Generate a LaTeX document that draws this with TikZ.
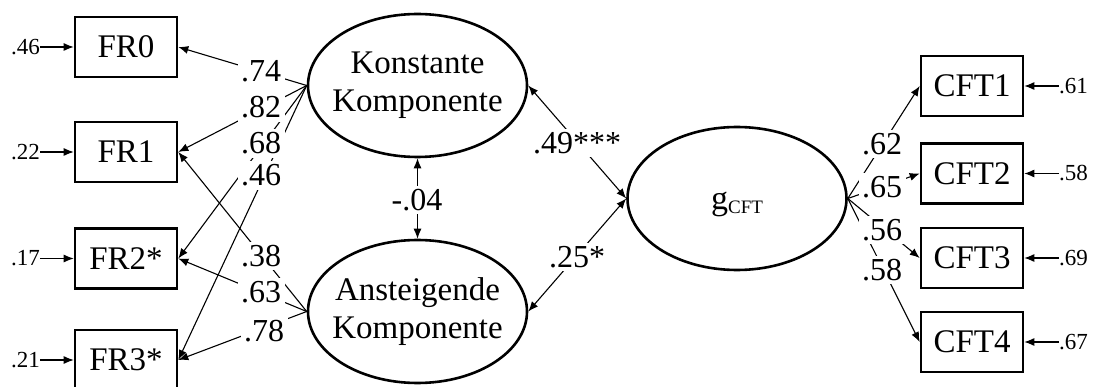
\documentclass[tikz,border=0pt]{standalone}
\usepackage{fontspec}
\setmainfont{Liberation Serif}
\usetikzlibrary{shapes.geometric,arrows.meta}
\begin{document}
\begin{tikzpicture}[x=1pt,y=-1pt,
  obs/.style={draw,line width=2.6pt,minimum width=102pt,minimum height=60pt,inner sep=0pt,font=\fontsize{33}{38}\selectfont},
  lat/.style={draw,ellipse,line width=2.6pt,minimum width=219pt,minimum height=143pt,inner sep=0pt},
  lattext/.style={align=center,inner sep=0pt,font=\fontsize{33}{38}\selectfont},
  conn/.style={line width=1.1pt,-{Latex[length=10pt,width=8pt]}},
  dconn/.style={line width=1.1pt,{Latex[length=10pt,width=8pt]}-{Latex[length=10pt,width=8pt]}},
  coef/.style={fill=white,inner sep=3.5pt,font=\fontsize{32}{32}\selectfont},
  res/.style={inner sep=0pt,font=\fontsize{23}{23}\selectfont}
]
\useasboundingbox (0,0) rectangle (1094,387);

% observed indicators (left)
\node[obs] (FR0) at (126,47)    {FR0};
\node[obs] (FR1) at (126,152)   {FR1};
\node[obs] (FR2) at (126,258.5) {FR2*};
\node[obs] (FR3) at (126,360)   {FR3*};

% observed indicators (right)
\node[obs] (CFT1) at (972,86)    {CFT1};
\node[obs] (CFT2) at (972,173.5) {CFT2};
\node[obs] (CFT3) at (972,258)   {CFT3};
\node[obs] (CFT4) at (972,342)   {CFT4};

% latent variables
\node[lat] (K) at (417.5,85.5) {};
\node[lattext] (Kt) at (K) {Konstante\\Komponente};
\node[lat] (A) at (417.5,311.5) {};
\node[lattext] (At) at (A) {Ansteigende\\Komponente};
\node[lat] (G) at (737,198.5) {};
\node[anchor=base,inner sep=0pt] (Gt) at (737,210) {\fontsize{34}{34}\selectfont g\raisebox{-4pt}{\fontsize{19}{19}\selectfont CFT}};

% residuals left
\node[res,anchor=east] (e0) at (40,47)    {.46};
\node[res,anchor=east] (e1) at (40,152)   {.22};
\node[res,anchor=east] (e2) at (40,258.5) {.17};
\node[res,anchor=east] (e3) at (40,360)   {.21};
\draw[conn] (e0.east) -- (FR0.west);
\draw[conn] (e1.east) -- (FR1.west);
\draw[conn] (e2.east) -- (FR2.west);
\draw[conn] (e3.east) -- (FR3.west);

% residuals right
\node[res,anchor=west] (f1) at (1059,86)    {.61};
\node[res,anchor=west] (f2) at (1059,173.5) {.58};
\node[res,anchor=west] (f3) at (1059,258)   {.69};
\node[res,anchor=west] (f4) at (1059,342)   {.67};
\draw[conn] (f1.west) -- (CFT1.east);
\draw[conn] (f2.west) -- (CFT2.east);
\draw[conn] (f3.west) -- (CFT3.east);
\draw[conn] (f4.west) -- (CFT4.east);

% loadings
\draw[conn] (K.west) -- (FR0.east);
\draw[conn] (K.west) -- (FR1.east);
\draw[conn] (K.west) -- (FR2.east);
\draw[conn] (K.west) -- (FR3.east);
\draw[conn] (A.west) -- (FR1.east);
\draw[conn] (A.west) -- (FR2.east);
\draw[conn] (A.west) -- (FR3.east);
\draw[conn] (G.east) -- (CFT1.west);
\draw[conn] (G.east) -- (CFT2.west);
\draw[conn] (G.east) -- (CFT3.west);
\draw[conn] (G.east) -- (CFT4.west);

% covariances / correlations
\draw[dconn] (K.south) -- (A.north);
\draw[dconn] (K.east) -- (G.west);
\draw[dconn] (A.east) -- (G.west);

% coefficient labels
\node[coef] (l74) at (261,71)    {.74};
\node[coef] (l82) at (261,107.5) {.82};
\node[coef] (l68) at (261,143.5) {.68};
\node[coef] (l46) at (261,175.5) {.46};
\node[coef] (l38) at (261,256)   {.38};
\node[coef] (l63) at (261,292)   {.63};
\node[coef] (l78) at (264,331)   {.78};
\node[coef] (l04) at (417,200)   {-.04};
\node[coef] (l49) at (577,143)   {.49***};
\node[coef] (l25) at (577,257)   {.25*};
\node[coef] (l62) at (882,144)   {.62};
\node[coef] (l65) at (882,187)   {.65};
\node[coef] (l56) at (882,230)   {.56};
\node[coef] (l58) at (882,270)   {.58};
\end{tikzpicture}
\end{document}
